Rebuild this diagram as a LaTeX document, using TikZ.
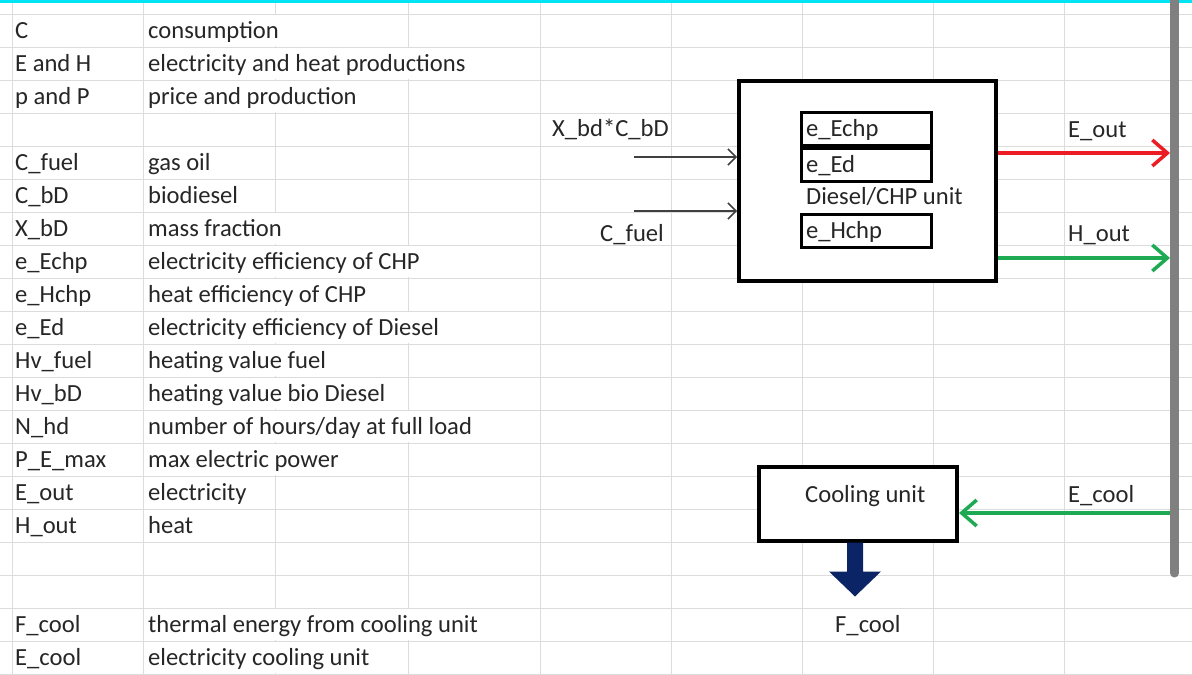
\documentclass[tikz,border=0pt]{standalone}
\usepackage{fontspec}
\setmainfont{Carlito}
\usetikzlibrary{arrows.meta, positioning, calc}
\definecolor{ink}{HTML}{262626}
\definecolor{gridgray}{HTML}{DCDCDC}
\definecolor{selcyan}{HTML}{00E4F4}
\definecolor{busgray}{HTML}{808080}
\definecolor{elred}{HTML}{EC1C24}
\definecolor{heatgreen}{HTML}{1EAA52}
\definecolor{coolnavy}{HTML}{0B2466}
\definecolor{feedgray}{HTML}{404040}
\tikzset{
  gridline/.style={draw=gridgray, line width=1pt},
  cell/.style={
    anchor=west, inner xsep=2pt, inner ysep=0pt,
    minimum height=31pt, fill=white, text=ink,
    font=\fontsize{24.6}{29}\selectfont, text height=19pt, text depth=3pt
  },
  tag/.style={cell, fill=none},
  unitbox/.style={rectangle, draw=black, line width=4pt, fill=white},
  effbox/.style={
    rectangle, draw=black, line width=3pt, fill=white,
    minimum width=130pt, minimum height=33pt, inner xsep=5pt, inner ysep=0pt,
    text width=120pt, align=left, text=ink,
    font=\fontsize{24.6}{29}\selectfont, text height=19pt, text depth=3pt
  },
  feed/.style={-{Straight Barb[length=8pt,width=16pt]}, line width=1.5pt, draw=feedgray},
  flow/.style={-{Straight Barb[length=15pt,width=26pt]}, line width=3.5pt},
}

\begin{document}
\begin{tikzpicture}[x=1pt, y=-1pt]
  \useasboundingbox (0,0) rectangle (1192,675);

  % spreadsheet grid
  \foreach \k in {0,...,20}
    \draw[gridline] (0,{14+33*\k}) -- (1192,{14+33*\k});
  \foreach \x in {12,143,275,408,540,671,802,933,1064}
    \draw[gridline] (\x,3) -- (\x,675);
  \draw[selcyan, line width=3pt] (0,1.5) -- (1192,1.5);

  % legend
  \foreach \r/\sym/\desc in {0/C/consumption, 1/E and H/electricity and heat productions,
      2/p and P/price and production, 4/C\_fuel/gas oil, 5/C\_bD/biodiesel,
      6/X\_bD/mass fraction, 7/e\_Echp/electricity efficiency of CHP,
      8/e\_Hchp/heat efficiency of CHP, 9/e\_Ed/electricity efficiency of Diesel,
      10/Hv\_fuel/heating value fuel, 11/Hv\_bD/heating value bio Diesel,
      12/N\_hd/{number of hours/day at full load}, 13/P\_E\_max/max electric power,
      14/E\_out/electricity, 15/H\_out/heat,
      18/F\_cool/thermal energy from cooling unit, 19/E\_cool/electricity cooling unit} {
    \node[cell] (sym\r) at (13,{30.5+33*\r}) {\sym};
    \node[cell] (desc\r) at (146,{30.5+33*\r}) {\desc};
  }

  % Diesel/CHP unit
  \node[unitbox, minimum width=257pt, minimum height=200pt] (chp) at (867.5,181) {};
  \node[effbox] (echp) at (866,128.5) {e\_Echp};
  \node[effbox, below=0pt of echp] (eed) {e\_Ed};
  \node[tag] (chplbl) at (804,196) {Diesel/CHP unit};
  \node[effbox] (ehchp) at (866,230.5) {e\_Hchp};

  % bus bar
  \draw[busgray, line width=9pt, line cap=round] (1174.5,-10) -- (1174.5,573);
  \coordinate (eoutend) at (1170,153);
  \coordinate (houtend) at (1170,258);
  \coordinate (ecoolstart) at (1170,513);

  % inputs
  \coordinate (xin) at (634,157);
  \coordinate (fuelin) at (634,211);
  \node[tag] (xlbl) at (550,128) {X\_bd*C\_bD};
  \node[tag] (fuellbl) at (598,233) {C\_fuel};
  \draw[feed] (xin) -- (xin -| chp.west);
  \draw[feed] (fuelin) -- (fuelin -| chp.west);

  % outputs
  \node[tag] (eoutlbl) at (1066,129) {E\_out};
  \node[tag] (houtlbl) at (1066,233) {H\_out};
  \draw[flow, elred] (chp.east |- eoutend) -- (eoutend);
  \draw[flow, heatgreen] (chp.east |- houtend) -- (houtend);

  % cooling unit
  \node[unitbox, minimum width=198pt, minimum height=74pt] (cool) at (858,503.5) {};
  \node[tag] (coollbl) at (803,494) {Cooling unit};
  \node[tag] (ecoollbl) at (1066,494) {E\_cool};
  \draw[flow, heatgreen] (ecoolstart) -- (ecoolstart -| cool.east);

  \fill[coolnavy] ($(cool.south)+(-11,0)$) -- ++(0,29) -- ++(-18,0) -- ++(26,25)
    -- ++(26,-25) -- ++(-18,0) -- ++(0,-29) -- cycle;
  \node[tag] (fcool) at (833,624) {F\_cool};
\end{tikzpicture}
\end{document}
